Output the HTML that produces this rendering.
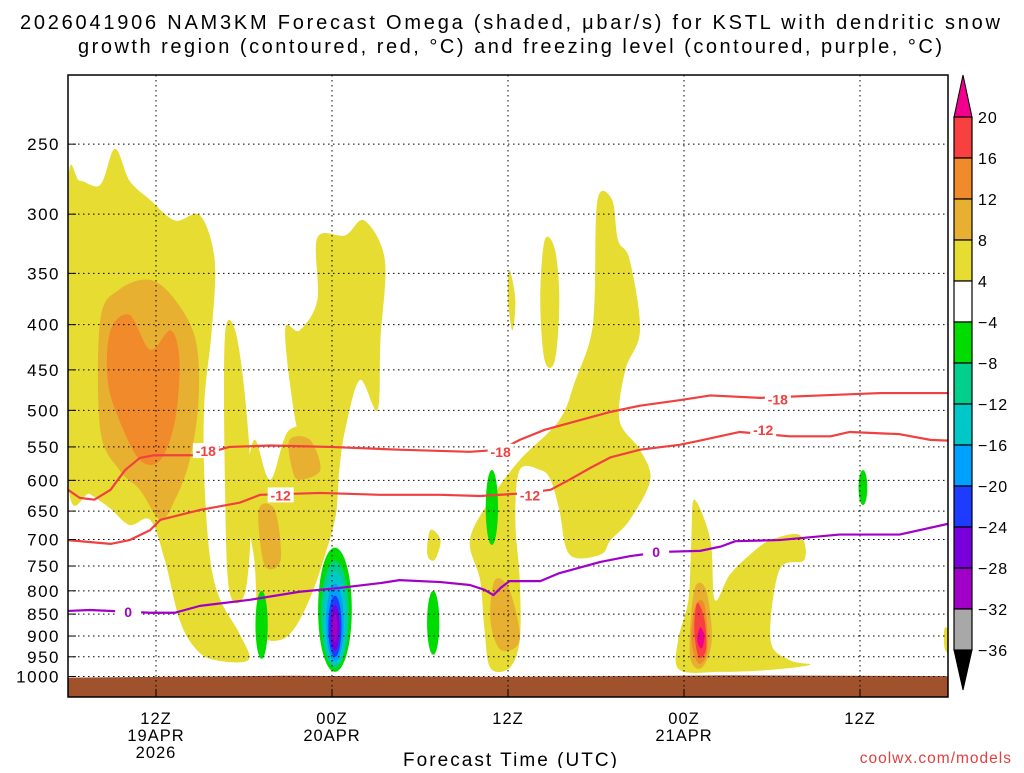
<!DOCTYPE html>
<html><head><meta charset="utf-8"><style>
body{margin:0;background:#fff;}
svg text{font-family:"Liberation Sans",sans-serif;}
</style></head><body>
<svg id="c" width="1024" height="768" xmlns="http://www.w3.org/2000/svg">
<rect width="1024" height="768" fill="#fff"/>
<text x="20" y="29" font-size="20" textLength="980" lengthAdjust="spacing">2026041906 NAM3KM Forecast Omega (shaded, μbar/s) for KSTL with dendritic snow</text>
<text x="78" y="53" font-size="20" textLength="864" lengthAdjust="spacing">growth region (contoured, red, °C) and freezing level (contoured, purple, °C)</text>
<g id="plot"></g>
<text x="403" y="766" font-size="19" textLength="214" lengthAdjust="spacing">Forecast Time (UTC)</text>
<text x="1012" y="763" font-size="15.5" text-anchor="end" fill="#e04040" letter-spacing="1">coolwx.com/models</text>
<g id="cbar"></g>
</svg>
<script>
// ---- data ----
const pressureTicks=[250,300,350,400,450,500,550,600,650,700,750,800,850,900,950,1000];
const timeTicks=[6,18,30,42,54];
const timeTickLabels=[["12Z","19APR","2026"],["00Z","20APR"],["12Z"],["00Z","21APR"],["12Z"]];
const cbarLabels=["20","16","12","8","4","−4","−8","−12","−16","−20","−24","−28","−32","−36"];
const cbarColors=["#f84040","#f08a2a","#e8b030","#e6dc32","#ffffff","#00dc00","#00d08c","#00c8c8","#00a0ff","#1e3cff","#7800dc","#a000c8","#a8a8a8"];
const iso18=[[0,615],[0.8,628],[1.8,631],[2.9,615],[3.9,584],[4.9,566],[5.9,562],[9,562],[11,550],[13.8,548],[17.9,550],[22.6,554],[27.4,557],[29.5,554],[30.8,540],[32.5,526],[34.9,513],[37,502],[39,494],[41.7,487],[43.8,481],[47.2,484],[51.3,481],[55.4,478],[60,478]];
const iso12=[[0,701],[2.9,708],[4.2,701],[5.6,683],[6.3,665],[9,648],[11.7,636],[13.1,623],[17.2,620],[21.3,623],[25.4,623],[28.1,625],[30.8,621],[32.9,615],[34.2,599],[35.6,581],[37,565],[39,554],[41.7,547],[43.1,541],[45.8,529],[49.2,535],[52,535],[53.3,529],[56.7,532],[58.8,540],[60,541]];
const iso0=[[0,843],[1.5,841],[5.6,847],[7.3,847],[9,832],[12.4,819],[15.8,802],[18.5,794],[21.3,784],[22.6,778],[25.4,782],[27.4,788],[28.4,798],[29,809],[29.5,794],[30.1,780],[32.2,780],[33.5,764],[36.3,742],[38.3,731],[40.4,723],[43.1,721],[44.5,713],[45.5,703],[48.5,701],[52.6,691],[56.7,691],[60,672]];
const labels18=[[9.4,556],[29.5,557],[48.4,486]];
const labels12=[[14.5,624],[31.5,624],[47.4,526]];
const labels0=[[4.1,845],[40.1,723]];
const yellowBlobs=[
[[0,281],[0.8,275],[2.2,278],[3.2,253],[4.2,275],[5.6,289],[7.3,305],[9,301],[10,338],[9.8,406],[9.3,488],[9.3,600],[9.7,738],[10.4,820],[11.7,895],[12.3,958],[10,958],[8.7,930],[7.6,862],[6.6,738],[5.6,665],[4.2,674],[2.9,646],[1.5,622],[0,600]],
[[10.7,412],[11.4,406],[12.1,488],[12.5,631],[12.1,800],[11,800],[10.7,600]],
[[17,319],[18.9,317],[20.2,305],[21.6,338],[21.3,416],[21.1,500],[19.9,462],[18.9,526],[18.5,584],[18.2,665],[17.2,738],[16.5,665],[16.2,554],[15.5,513],[14.8,406],[15.8,406],[17,375]],
[[12.7,540],[13.8,599],[15.1,526],[17.2,540],[17.9,665],[17.2,758],[15.8,863],[14.5,909],[13.1,886],[12.7,738],[12.1,631]],
[[24.7,683],[25.4,701],[25,738],[24.5,728]],
[[36.1,289],[37.1,289],[37.5,321],[38.3,338],[39,406],[38,450],[37.6,513],[39,554],[39.7,599],[38.3,665],[37,701],[36.3,728],[34.2,728],[33.5,648],[32.9,599],[32.2,584],[30.8,584],[30.5,665],[30.8,778],[30.8,909],[30.1,978],[28.8,978],[28.4,886],[28.1,778],[27.4,701],[28.8,631],[30.8,569],[33.5,513],[34.6,462],[35.6,416],[35.9,375]],
[[30.1,347],[30.5,375],[30.3,406],[30,375]],
[[32.5,321],[33.2,329],[33.5,375],[33.2,439],[32.5,439],[32.2,375]],
[[42.7,631],[43.8,701],[44.1,819],[45.1,768],[46.5,728],[47.9,701],[49.9,692],[50.2,738],[48.5,758],[47.9,909],[49.2,958],[50.6,970],[47.9,983],[44.5,988],[41.7,983],[41.6,909],[42.3,819],[42.5,701]],
[[59.8,880],[60.5,909],[60.5,945],[59.8,933]]
];
const orange8Blobs=[
[[2.2,395],[3.5,365],[5.6,356],[7.3,375],[8.7,416],[8.9,487],[8.3,569],[7.3,631],[6.3,665],[4.9,615],[3.5,584],[2.2,526]],
[[15.1,540],[16.5,540],[17.2,584],[15.8,599],[15.3,584]],
[[13,648],[14.1,648],[14.5,738],[13.4,748]],
[[29.1,778],[30.1,798],[30.8,909],[29.5,933],[28.8,863]],
[[42.7,798],[43.5,798],[43.9,909],[43.2,978],[42.4,945]]
];
const orange12Blobs=[
[[2.9,406],[4.2,390],[5.6,427],[7,406],[7.6,439],[7.3,513],[6.3,569],[4.9,569],[3.5,513],[2.7,462]],
[[42.8,830],[43.4,830],[43.6,933],[43,967],[42.5,909]]
];
const red16Blobs=[[[42.9,826],[43.4,863],[43.5,933],[43,950],[42.7,886]]];
const magenta20Blobs=[[[43.1,880],[43.4,900],[43.2,930],[42.9,910]]];
// negative cells: [centerHour, halfWidthHours, pTop, pBottom, levelIndex]
const negCells=[
[18.2,1.15,715,988,5],[18.2,0.95,740,978,6],[18.2,0.78,760,970,7],[18.2,0.6,785,962,8],[18.2,0.45,810,950,9],[18.2,0.32,830,935,10],[18.2,0.18,850,915,11],
[13.2,0.42,800,955,5],[24.9,0.42,800,945,5],[28.9,0.42,584,710,5],[54.2,0.3,584,640,5]
];
// ---- axes ----
const X0=68,X1=948,Y0=75,Y1=697;
const xs=h=>X0+h*(X1-X0)/60;
const ys=p=>676.5+384*Math.log(p/1000);
const NS="http://www.w3.org/2000/svg";
const plot=document.getElementById('plot');
function mk(tag,attrs,parent){const e=document.createElementNS(NS,tag);for(const k in attrs)e.setAttribute(k,attrs[k]);(parent||plot).appendChild(e);return e;}
function smoothClosed(pts){
  const P=pts.map(([h,p])=>[xs(h),ys(p)]);const n=P.length;let d=`M${P[0][0]},${P[0][1]}`;
  for(let i=0;i<n;i++){const p0=P[(i-1+n)%n],p1=P[i],p2=P[(i+1)%n],p3=P[(i+2)%n];
    d+=`C${p1[0]+(p2[0]-p0[0])/6},${p1[1]+(p2[1]-p0[1])/6} ${p2[0]-(p3[0]-p1[0])/6},${p2[1]-(p3[1]-p1[1])/6} ${p2[0]},${p2[1]}`;}
  return d+'Z';}
const clip=mk('clipPath',{id:'pc'});mk('rect',{x:X0,y:Y0,width:X1-X0,height:Y1-Y0},clip);
const g=mk('g',{'clip-path':'url(#pc)'});
function drawBlobs(arr,color,name){arr.forEach(b=>{const e=mk('path',{d:smoothClosed(b),fill:color},g);
  
  });}
drawBlobs(yellowBlobs,cbarColors[3],'omega-4-8-region');
drawBlobs(orange8Blobs,cbarColors[2],'omega-8-12-region');
drawBlobs(orange12Blobs,cbarColors[1],'omega-12-16-region');
drawBlobs(red16Blobs,cbarColors[0],'omega-16-20-region');
drawBlobs(magenta20Blobs,'#f0008c','omega-above-20-region');
negCells.forEach(([h,hw,pt,pb,li])=>{const yt=ys(pt),yb=ys(pb);
  const e=mk('ellipse',{cx:xs(h),cy:(yt+yb)/2,rx:hw*(X1-X0)/60,ry:(yb-yt)/2,fill:cbarColors[li]},g);
  
  });
// ground
const gr=mk('path',{d:`M${X0},${ys(1003)} L${xs(15)},${ys(998)} L${xs(30)},${ys(1001)} L${xs(45)},${ys(997)} L${X1},${ys(999)} L${X1},${Y1} L${X0},${Y1}Z`,fill:'#a0522d'},g);


// grid
pressureTicks.forEach(p=>{const y=ys(p);
  const l=mk('line',{x1:X0,x2:X1,y1:y,y2:y,stroke:'#000','stroke-width':1,'stroke-dasharray':'1.5,3.5'},g);
  
  
  mk('line',{x1:X0,x2:X0+8,y1:y,y2:y,stroke:'#000'});
  const t=mk('text',{x:X0-8,y:y+6,'font-size':17,'text-anchor':'end','letter-spacing':1.5});t.textContent=p;
  
  });
timeTicks.forEach((h,i)=>{const x=xs(h);
  const l=mk('line',{x1:x,x2:x,y1:Y0,y2:Y1,stroke:'#000','stroke-width':1,'stroke-dasharray':'1.5,3.5'},g);
  
  
  mk('line',{x1:x,x2:x,y1:Y1,y2:Y1-8,stroke:'#000'});
  timeTickLabels[i].forEach((s,j)=>{const t=mk('text',{x:x,y:724+j*17,'font-size':16.5,'text-anchor':'middle','letter-spacing':1});t.textContent=s;
    
    });});
// contour lines
function line(pts,color,name){const d=pts.map(([h,p],i)=>(i?'L':'M')+xs(h)+','+ys(p)).join('');
  const e=mk('path',{d,fill:'none',stroke:color,'stroke-width':2.2,'stroke-linejoin':'round'},g);
  
  }
line(iso18,'#f04040','isotherm-minus18');
line(iso12,'#f04040','isotherm-minus12');
line(iso0,'#a000c8','freezing-level-0c');
function labs(arr,txt,color){arr.forEach(([h,p])=>{const x=xs(h),y=ys(p);
  mk('rect',{x:x-13,y:y-8,width:26,height:15,fill:'#fff'},g);
  const t=mk('text',{x:x,y:y+5,'font-size':14,'font-weight':'bold','text-anchor':'middle',fill:color},g);t.textContent=txt;
  
  });}
labs(labels18,'-18','#f04040');labs(labels12,'-12','#f04040');labs(labels0,'0','#a000c8');
mk('rect',{x:X0,y:Y0,width:X1-X0,height:Y1-Y0,fill:'none',stroke:'#000','stroke-width':1.5});
// colorbar
const cb=document.getElementById('cbar');const CX0=954,CX1=972,CT=117,CH=41;
mk('path',{d:`M${CX0},${CT} L${(CX0+CX1)/2},75 L${CX1},${CT}Z`,fill:'#f0008c',stroke:'#000'},cb);
cbarColors.forEach((c,i)=>{const r=mk('rect',{x:CX0,y:CT+i*CH,width:CX1-CX0,height:CH,fill:c,stroke:'#000','stroke-width':1.2},cb);
  
  });
const cbBot=CT+cbarColors.length*CH;
mk('path',{d:`M${CX0},${cbBot} L${(CX0+CX1)/2},${cbBot+40} L${CX1},${cbBot}Z`,fill:'#000',stroke:'#000'},cb);
cbarLabels.forEach((s,i)=>{const t=mk('text',{x:978,y:CT+i*CH+6,'font-size':16,'letter-spacing':1},cb);t.textContent=s;
  
  });
</script>
</body></html>
